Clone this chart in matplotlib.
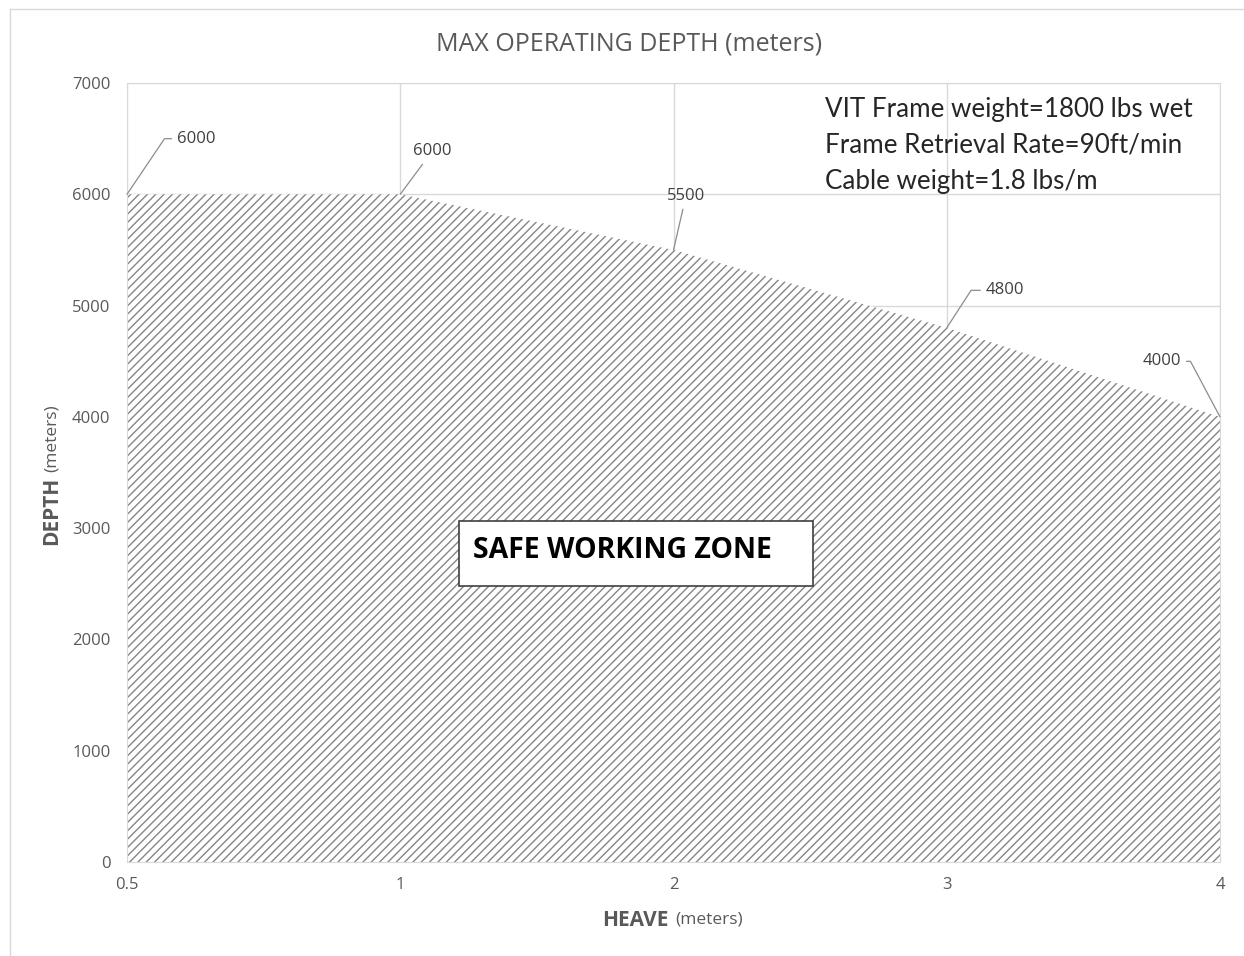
import numpy as np
import matplotlib.pyplot as plt
from matplotlib.patches import Rectangle
from matplotlib.lines import Line2D

heave = ["0.5", "1", "2", "3", "4"]
depth = [6000, 6000, 5500, 4800, 4000]
yticks = [0, 1000, 2000, 3000, 4000, 5000, 6000, 7000]
notes = ["VIT Frame weight=1800 lbs wet",
         "Frame Retrieval Rate=90ft/min",
         "Cable weight=1.8 lbs/m"]

plt.rcParams['font.family'] = ['Open Sans', 'DejaVu Sans']
plt.rcParams['hatch.linewidth'] = 1.0
plt.rcParams['hatch.color'] = '#858585'

txt = '#595959'
grid = '#d9d9d9'

fig = plt.figure(figsize=(12.44, 9.56), dpi=100)
ax = fig.add_axes([0.1021, 0.0983, 0.8786, 0.8149])

x = np.arange(len(heave))
ax.fill_between(x, depth, 0, facecolor='white', edgecolor='#858585',
                hatch='////', linewidth=0, zorder=2)

ax.set_xlim(0, len(heave) - 1)
ax.set_ylim(0, 7000)
ax.set_xticks(x)
ax.set_xticklabels(heave)
ax.set_yticks(yticks)
ax.grid(True, color=grid, linewidth=1, zorder=0)
ax.set_axisbelow(True)
for s in ax.spines.values():
    s.set_color(grid)
ax.tick_params(axis='both', length=0, labelsize=12, labelcolor=txt)
ax.tick_params(axis='x', pad=11)
ax.tick_params(axis='y', pad=12)

# data labels with leader lines
offsets = [(50, 40), (23, 31), (9, 39), (42, 27), (-42, 40)]
conns = ["angle,angleA=0,angleB=56,rad=0", "arc3", "arc3",
         "angle,angleA=0,angleB=57,rad=0", "angle,angleA=0,angleB=-62,rad=0"]
for xi, d, off, cs in zip(x, depth, offsets, conns):
    ax.annotate(str(d), xy=(xi, d), xytext=off, textcoords='offset points',
                ha='center', va='center', fontsize=12, color='#404040',
                arrowprops=dict(arrowstyle='-', color='#8c8c8c', lw=0.9,
                                connectionstyle=cs, shrinkA=2, shrinkB=0),
                zorder=5, annotation_clip=False)

# title and axis labels
fig.text(629 / 1244, 1 - 44 / 956, "MAX OPERATING DEPTH (meters)",
         ha='center', va='center', fontsize=18, color=txt)
fig.text(668 / 1244, 1 - 920 / 956, "HEAVE", ha='right', va='center',
         fontsize=15, fontweight='bold', color=txt)
fig.text(675 / 1244, 1 - 920 / 956, "(meters)", ha='left', va='center',
         fontsize=12.5, color=txt)
fig.text(52 / 1244, 1 - 545 / 956, "DEPTH", rotation=90, ha='center',
         va='bottom', fontsize=15, fontweight='bold', color=txt)
fig.text(52 / 1244, 1 - 472 / 956, "(meters)", rotation=90, ha='center',
         va='bottom', fontsize=12.5, color=txt)

# notes
for i, line in enumerate(notes):
    fig.text(825 / 1244, 1 - (109 + 36 * i) / 956, line, ha='left',
             va='center', fontsize=18.7, color='#262626',
             family=['Lato', 'DejaVu Sans'])

# safe working zone box
fig.add_artist(Rectangle((459 / 1244, 1 - 586 / 956), 354 / 1244, 65 / 956,
                         transform=fig.transFigure, facecolor='white',
                         edgecolor='#404040', linewidth=1.2, zorder=6))
fig.text(473 / 1244, 1 - 551 / 956, "SAFE WORKING ZONE", ha='left',
         va='center', fontsize=20.4, fontweight='bold', color='black', zorder=7)

# faint sheet frame
fig.add_artist(Line2D([10 / 1244, 10 / 1244], [0, 1 - 9 / 956],
                      transform=fig.transFigure, color=grid, lw=1))
fig.add_artist(Line2D([10 / 1244, 1], [1 - 9 / 956, 1 - 9 / 956],
                      transform=fig.transFigure, color=grid, lw=1))

fig.savefig("out.png", dpi=100)
